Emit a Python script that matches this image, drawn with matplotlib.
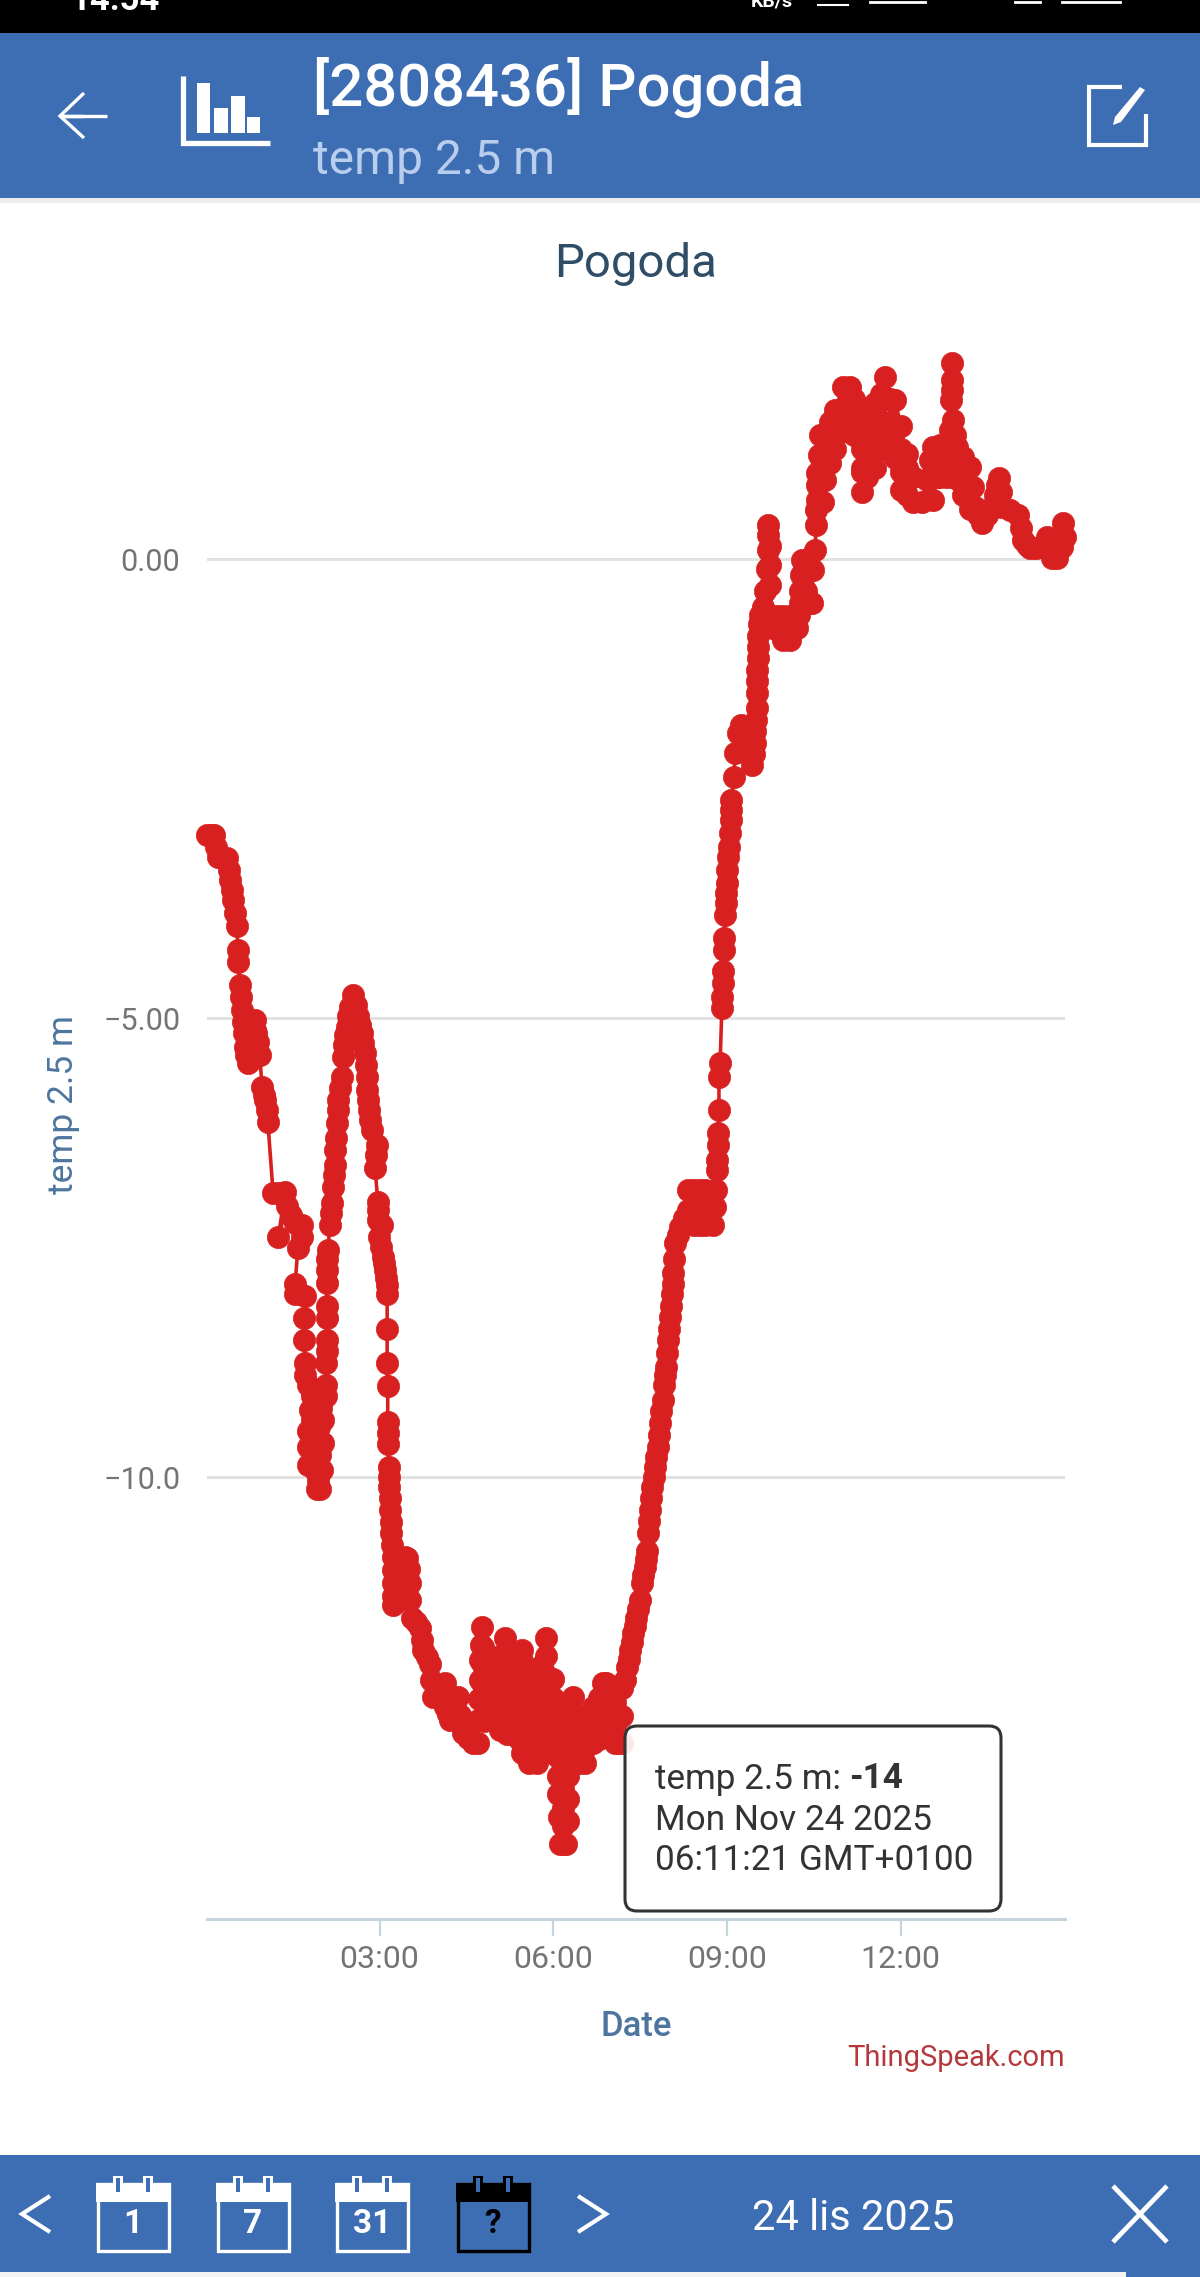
import matplotlib
matplotlib.use("Agg")
import matplotlib.pyplot as plt
from matplotlib.patches import Rectangle, FancyBboxPatch, Polygon

plt.rcParams['font.family'] = ['Roboto', 'DejaVu Sans']

# readings as (hour of day, temperature)
evening_fall = [(0.02,-3.00),(0.08,-3.00),(0.14,-3.00),(0.18,-3.13),(0.21,-3.24),(0.30,-3.25),(0.36,-3.25),(0.40,-3.38),
 (0.42,-3.49),(0.45,-3.60),(0.47,-3.71),(0.50,-3.85),(0.54,-4.00),(0.55,-4.26),(0.55,-4.39),(0.59,-4.64),(0.61,-4.77),
 (0.62,-4.91),(0.64,-5.04),(0.66,-5.16),(0.68,-5.31),(0.69,-5.40),(0.73,-5.49),(0.78,-5.45),(0.81,-5.29),(0.85,-5.13),
 (0.85,-5.02),(0.87,-5.16),(0.90,-5.26),(0.93,-5.40),(0.97,-5.75),(1.00,-5.84),(1.02,-5.89),(1.05,-6.00),(1.07,-6.13),
 (1.16,-6.90),(1.26,-6.90),(1.37,-6.89),(1.25,-7.38),(1.40,-7.05),(1.47,-7.14),(1.54,-7.23),(1.61,-7.25),(1.66,-7.25),
 (1.66,-7.38),(1.59,-7.50),(1.54,-7.89),(1.54,-8.00),(1.63,-8.00),(1.71,-8.02),(1.70,-8.26),(1.70,-8.51),(1.71,-8.76),
 (1.71,-8.89),(1.76,-9.00),(1.83,-9.12),(1.92,-9.15),(1.98,-9.25),(1.88,-9.30),(1.80,-9.27),(1.83,-9.38),(1.95,-9.45),
 (1.85,-9.55),(1.76,-9.50),(1.76,-9.67),(1.88,-9.70),(1.98,-9.62),(1.90,-9.82),(1.76,-9.87),(1.88,-9.92),
 (1.92,-10.13),(1.94,-10.03),(1.97,-10.13),(2.01,-9.92),(1.97,-9.76),(2.02,-9.63),(2.02,-9.38),(2.07,-9.12),(2.07,-9.00)]
first_peak = [(2.07,-8.76),(2.09,-8.62),(2.09,-8.51),(2.09,-8.26),(2.09,-8.13),(2.09,-7.88),(2.09,-7.74),(2.09,-7.62),
 (2.11,-7.52),(2.14,-7.25),(2.16,-7.12),(2.18,-7.01),(2.19,-6.84),(2.21,-6.71),(2.23,-6.60),(2.23,-6.43),(2.25,-6.30),
 (2.26,-6.14),(2.28,-6.00),(2.28,-5.89),(2.32,-5.76),(2.35,-5.64),(2.37,-5.42),(2.39,-5.29),(2.40,-5.18),(2.44,-5.09),
 (2.45,-4.98),(2.49,-4.88),(2.54,-4.75),(2.59,-4.86),(2.63,-4.98),(2.66,-5.07),(2.70,-5.16),(2.71,-5.27),(2.75,-5.38),
 (2.77,-5.51),(2.78,-5.64),(2.78,-5.78),(2.80,-5.89),(2.82,-6.00),(2.83,-6.11),(2.87,-6.22),(2.96,-6.38),(2.94,-6.49),
 (2.92,-6.63)]
second_fall = [(2.97,-7.00),(2.97,-7.09),(2.97,-7.20),(3.04,-7.25),(2.99,-7.38),(3.02,-7.49),(3.06,-7.60),(3.08,-7.67),
 (3.09,-7.74),(3.11,-7.83),(3.13,-7.91),(3.13,-8.00),(3.13,-8.39),(3.13,-8.76),(3.14,-9.01),(3.14,-9.40),(3.14,-9.52),
 (3.14,-9.64),(3.16,-9.89),(3.16,-10.00),(3.16,-10.11),(3.18,-10.23),(3.18,-10.36),(3.20,-10.49),(3.20,-10.61),
 (3.21,-10.74),(3.23,-10.87),(3.23,-11.01),(3.23,-11.15),(3.23,-11.29),(3.23,-11.39),(3.30,-11.35),(3.35,-11.29),(3.39,-11.06),
 (3.43,-10.87),(3.47,-10.88),(3.50,-11.00),(3.53,-11.15),(3.53,-11.34),(3.56,-11.53),(3.63,-11.58),(3.70,-11.64),(3.73,-11.77),
 (3.75,-11.88),(3.82,-11.96),(3.87,-12.03),(3.89,-12.21),(3.92,-12.39),(3.98,-12.36),(4.03,-12.32),(4.08,-12.28),(4.13,-12.24),(4.13,-12.37),
 (4.13,-12.50),(4.18,-12.58),(4.22,-12.64),(4.28,-12.52),(4.35,-12.39),(4.39,-12.59),(4.44,-12.79),(4.53,-12.84),
 (4.61,-12.89),(4.70,-12.89)]
night_swings = [(4.70,-12.64),(4.72,-12.42),(4.73,-12.21),(4.73,-11.99),(4.75,-11.83),(4.77,-11.63),(4.78,-11.85),(4.78,-12.05),
 (4.78,-12.25),(4.78,-12.45),(4.80,-12.65),(4.90,-12.60),(4.90,-12.40),(4.90,-12.20),(4.90,-12.00),(4.98,-11.98),(4.98,-12.18),
 (4.98,-12.38),(4.98,-12.60),(5.08,-12.75),(5.08,-12.55),(5.08,-12.35),(5.08,-12.15),(5.08,-11.95),(5.17,-11.75),(5.17,-11.95),
 (5.17,-12.15),(5.17,-12.35),(5.17,-12.55),(5.20,-12.80),(5.29,-12.80),(5.29,-12.60),(5.29,-12.40),(5.29,-12.20),(5.29,-12.10),
 (5.40,-12.05),(5.40,-12.25),(5.40,-12.45),(5.40,-12.65),(5.40,-12.85),(5.46,-13.00),(5.46,-12.80),(5.46,-12.60),(5.46,-12.40),
 (5.46,-12.20),(5.46,-12.00),(5.46,-11.88),(5.58,-12.20),(5.58,-12.40),(5.58,-12.60),(5.58,-12.80),(5.58,-13.11),(5.72,-13.11),
 (5.72,-12.90),(5.72,-12.70),(5.72,-12.50),(5.72,-12.30),(5.80,-12.05),(5.87,-11.75),(5.87,-11.95),(5.87,-12.15),(5.87,-12.35),
 (5.87,-12.55),(5.87,-12.75),(5.87,-12.90),(6.00,-13.00),(6.00,-12.80),(6.00,-12.60),(6.00,-12.40),(6.00,-12.20),(6.08,-12.45),
 (6.08,-12.65),(6.08,-12.85),(6.08,-13.05),(6.08,-13.25),(6.08,-13.45),(6.10,-13.70),(6.12,-14.00),(6.17,-14.00),(6.22,-14.00),(6.17,-13.80),(6.17,-13.60),
 (6.17,-13.40),(6.17,-13.20),(6.17,-13.00),(6.17,-12.80),(6.17,-12.50),(6.25,-12.45),(6.25,-12.65),(6.25,-12.85),(6.25,-13.05),
 (6.25,-13.25),(6.25,-13.50),(6.25,-13.75),(6.34,-13.00),(6.34,-12.80),(6.34,-12.60),(6.34,-12.39),(6.45,-12.60),(6.45,-12.80),(6.45,-13.11),
 (6.55,-13.11),(6.55,-12.95),(6.55,-12.80),(6.69,-12.50),(6.69,-12.70),(6.69,-12.90),(6.78,-12.85),(6.78,-12.60),(6.78,-12.40),
 (6.86,-12.24),(6.86,-12.45),(6.86,-12.75),(6.91,-12.24),(6.93,-12.42),(7.00,-12.81),(7.00,-12.55),(7.00,-12.35),(7.07,-12.45),
 (7.07,-12.70),(7.07,-12.89),(7.13,-12.89),(7.19,-12.89),(7.19,-12.60),(7.19,-12.30)]
morning_rise = [(7.24,-12.21),(7.27,-12.07),(7.30,-11.98),(7.33,-11.88),(7.36,-11.79),(7.38,-11.70),(7.41,-11.62),(7.43,-11.53),(7.47,-11.43),
 (7.50,-11.34),(7.53,-11.15),(7.55,-11.06),(7.58,-10.98),(7.60,-10.89),(7.62,-10.80),(7.64,-10.61),(7.65,-10.48),(7.67,-10.36),(7.69,-10.23),(7.70,-10.11),
 (7.73,-10.00),(7.76,-9.89),(7.78,-9.78),(7.81,-9.67),(7.83,-9.54),
 (7.84,-9.41),(7.86,-9.28),(7.89,-9.16),(7.91,-9.00),(7.93,-8.89),(7.95,-8.80),(7.96,-8.65),(7.98,-8.51),(8.00,-8.38),
 (8.02,-8.25),(8.03,-8.13),(8.05,-8.00),(8.06,-7.89),(8.07,-7.78),(8.08,-7.62),(8.10,-7.45),(8.15,-7.36),(8.19,-7.27),
 (8.26,-7.18),(8.33,-7.09),(8.33,-6.87),(8.43,-6.87),(8.43,-7.06),(8.43,-7.25),(8.53,-7.25),(8.53,-7.06),(8.53,-6.87),(8.62,-6.87),(8.62,-7.06),(8.62,-7.25),
 (8.76,-7.25),(8.79,-7.06),(8.81,-6.87),(8.83,-6.65),(8.83,-6.54),(8.85,-6.38),(8.85,-6.25),(8.86,-6.00),(8.86,-5.64),
 (8.88,-5.49),(8.91,-4.89),(8.91,-4.77),(8.93,-4.62),(8.93,-4.49),(8.94,-4.26),(8.94,-4.13),(8.97,-3.88),(8.98,-3.74),
 (8.99,-3.64),(9.00,-3.53),(9.00,-3.38),(9.02,-3.24),(9.03,-3.13),(9.05,-2.98),(9.07,-2.84),(9.07,-2.73),(9.07,-2.62),
 (9.12,-2.37),(9.14,-2.11),(9.19,-1.89),(9.24,-1.80),(9.31,-1.97),(9.43,-2.24),(9.46,-2.12),(9.48,-2.00),(9.49,-1.87),
 (9.50,-1.75),(9.51,-1.62),(9.52,-1.46),(9.52,-1.33),(9.52,-1.21),(9.53,-1.08),(9.54,-0.96),(9.54,-0.83),(9.55,-0.71),
 (9.57,-0.61),(9.62,-0.52)]
midday = [(9.66,-0.34),(9.69,-0.11),(9.71,0.10),(9.71,0.26),(9.71,0.37),(9.74,0.15),(9.74,-0.06),(9.74,-0.28),(9.78,-0.66),
 (9.86,-0.77),(9.86,-0.62),(9.97,-0.62),(9.97,-0.88),(10.09,-0.88),(10.09,-0.62),(10.21,-0.62),(10.21,-0.75),(10.24,-0.61),(10.26,-0.48),(10.26,-0.34),(10.28,-0.17),
 (10.30,-0.01),(10.37,-0.01),(10.37,-0.34),(10.43,-0.48),(10.47,-0.48),(10.48,-0.12),(10.52,0.10),(10.54,0.37),(10.54,0.54),
 (10.56,0.65),(10.56,0.81),(10.56,0.94),(10.58,1.14),(10.61,1.35),(10.63,1.10),(10.63,0.85),(10.65,0.62),(10.69,0.86),(10.69,1.10),(10.69,1.35),
 (10.78,1.50),(10.78,1.25),(10.78,1.05),(10.87,1.20),(10.87,1.42),(10.87,1.63),(11.00,1.88),(11.00,1.65),(11.00,1.40),(11.12,1.39),
 (11.12,1.62),(11.12,1.88),(11.20,1.75),(11.20,1.55),(11.20,1.35),(11.33,1.00),(11.33,0.73),(11.33,0.95),(11.33,1.20),(11.33,1.42),(11.33,1.65),
 (11.42,1.63),(11.42,1.40),(11.42,1.15),(11.42,0.90),(11.55,1.00),(11.55,1.25),(11.55,1.50),(11.55,1.70),(11.65,1.80),(11.65,1.50),(11.65,1.20),
 (11.73,1.22),(11.73,1.45),(11.73,1.75),(11.73,1.99),(11.82,1.75),(11.82,1.50),(11.82,1.30),(11.90,1.10),(11.90,1.40),(11.90,1.74),
 (12.00,1.45),(12.00,1.20),(12.00,0.95),(12.00,0.76),(12.10,0.70),(12.10,1.00),(12.10,1.15),(12.21,0.90),(12.21,0.62),(12.37,0.62),(12.46,0.86),
 (12.51,1.08),(12.56,1.22),(12.56,0.95),(12.56,0.65),(12.62,0.90),(12.62,1.10),(12.68,1.25),(12.68,1.05),(12.68,0.90),(12.80,0.90),(12.80,1.05),(12.80,1.20),(12.85,1.41),(12.87,1.74),(12.89,1.95),
 (12.89,2.14),(12.89,1.84),(12.91,1.52),(12.94,1.35),(12.97,1.22),(12.97,1.05),(12.97,0.88),(13.08,0.70),(13.08,0.90),(13.08,1.11),(13.20,1.01),(13.20,0.80),(13.20,0.55),(13.25,0.79),(13.29,0.57),
 (13.33,0.48),(13.41,0.40),(13.49,0.48),(13.58,0.57),(13.63,0.70),(13.67,0.81),(13.70,0.89),(13.73,0.73),(13.75,0.57),
 (13.89,0.54),(14.03,0.48),(14.08,0.34),(14.11,0.21),(14.18,0.16),(14.23,0.12),(14.34,0.12),(14.44,0.13),(14.53,0.24),
 (14.58,0.12),(14.61,0.01),(14.70,0.01),(14.78,0.13),(14.84,0.24),(14.81,0.40)]

readings = evening_fall + first_peak + second_fall + night_swings + morning_rise + midday
hours = [r[0] for r in readings]
temps = [r[1] for r in readings]

y_ticks = [0, -5, -10]
y_tick_labels = ['0.00', '\u22125.00', '\u221210.0']
x_ticks = [3, 6, 9, 12]
x_tick_labels = ['03:00', '06:00', '09:00', '12:00']

W, H = 1200, 2277
fig = plt.figure(figsize=(W/100, H/100), dpi=100, facecolor='white')

ax = fig.add_axes([206.6/W, 1-1918.8/H, (1065-206.6)/W, (1918.8-310)/H])
ax.set_xlim(0.012, 14.836)
ax.set_ylim(-14.81, 2.716)
ax.plot(hours, temps, color='#d7201f', lw=2.6, marker='o', ms=16, mec='#d7201f', mew=0.5, clip_on=False, zorder=3)
for s in ['top', 'left', 'right']:
    ax.spines[s].set_visible(False)
ax.spines['bottom'].set_color('#c6d4de')
ax.spines['bottom'].set_linewidth(2.2)
ax.set_yticks(y_ticks, y_tick_labels)
ax.set_xticks(x_ticks, x_tick_labels)
ax.grid(axis='y', color='#e2e2e2', lw=2.2, zorder=0)
ax.set_axisbelow(True)
ax.tick_params(axis='y', length=0, pad=19, labelsize=22, labelcolor='#747474')
ax.tick_params(axis='x', length=12, width=1.6, color='#c6d4de', pad=7, labelsize=23, labelcolor='#747474')

# screen furniture, in screen pixels
ov = fig.add_axes([0, 0, 1, 1], zorder=5)
ov.set_xlim(0, W); ov.set_ylim(H, 0); ov.axis('off'); ov.patch.set_alpha(0)
BLUE = '#3d6eb4'
ov.add_patch(Rectangle((0, 0), W, 33, color='black', lw=0))
ov.add_patch(Rectangle((0, 33), W, 165, color=BLUE, lw=0))
ov.add_patch(Rectangle((0, 198), W, 5, color='#ececec', lw=0))
ov.add_patch(Rectangle((0, 2155), W, 122, color=BLUE, lw=0))
ov.add_patch(Rectangle((0, 2272), 1126, 5, color='#f4f4f4', lw=0))

def line(xs, ys, c='white', lw=3, **k):
    ov.plot(xs, ys, color=c, lw=lw, solid_capstyle='butt', solid_joinstyle='miter', **k)

ov.text(70, 1, '14:54', color='white', fontsize=25, fontweight='bold', va='center', ha='left', clip_on=True)
ov.text(772, 2, 'KB/s', color='white', fontsize=14, fontweight='bold', va='center', ha='center')
ov.plot([818, 848], [5, 5], color='white', lw=1.5)
ov.plot([870, 925], [2, 2], color='white', lw=2)
ov.plot([1015, 1040], [2, 2], color='white', lw=2)
ov.plot([1062, 1120], [2, 2], color='white', lw=2)

# header
line([107, 60, 84], [116, 116, 116], lw=2.4)
line([84, 60, 84], [93, 116, 138], lw=2.4)
line([183, 183, 270], [76, 143, 143], lw=3.8)
for x0, top, w in [(197, 83, 13), (214, 108, 14), (231, 96, 14), (247, 117, 13)]:
    ov.add_patch(Rectangle((x0, top), w, 133-top, color='white', lw=0))
line([1122, 1089, 1089, 1146, 1146], [87, 87, 145, 145, 114], lw=3)
ov.add_patch(Polygon([[1140, 87], [1145, 90], [1121, 122], [1113, 125], [1115, 117]], color='white', lw=0))
ov.text(313, 88, '[2808436] Pogoda', color='white', fontsize=43, fontweight='medium', va='center', ha='left')
ov.text(313, 161, 'temp 2.5 m', color='#b9cdec', fontsize=34.5, va='center', ha='left')

# chart texts
ov.text(636, 264, 'Pogoda', color='#2f4d66', fontsize=34, va='center', ha='center')
ov.text(63, 1105, 'temp 2.5 m', color='#4d759e', fontsize=25.5, rotation=90, va='center', ha='center')
ov.text(636, 2026, 'Date', color='#4d759e', fontsize=25, fontweight='medium', va='center', ha='center')
ov.text(1065, 2058, 'ThingSpeak.com', color='#b5393c', fontsize=21, va='center', ha='right')

# tooltip
ov.add_patch(FancyBboxPatch((637, 1738), 352, 161, boxstyle='round,pad=12', fc=(1, 1, 1, 0.9), ec='#333333', lw=2.2))
ov.text(655, 1779, 'temp 2.5 m: ', color='#333333', fontsize=25.3, va='center', ha='left')
ov.text(849, 1779, '-14', color='#333333', fontsize=25.3, fontweight='bold', va='center', ha='left')
ov.text(655, 1820, 'Mon Nov 24 2025', color='#333333', fontsize=25.3, va='center', ha='left')
ov.text(655, 1861, '06:11:21 GMT+0100', color='#333333', fontsize=25.3, va='center', ha='left')

# bottom bar
line([50, 22, 50], [2196, 2214, 2232], lw=3)
line([578, 606, 578], [2196, 2214, 2232], lw=3)
line([1113, 1167], [2186, 2242], lw=3.4)
line([1167, 1113], [2186, 2242], lw=3.4)
ov.text(853, 2218, '24 lis 2025', color='white', fontsize=30, va='center', ha='center')
for x0, txt, c, tc in [(96, '1', 'white', 'white'), (216, '7', 'white', 'white'), (335, '31', 'white', 'white'), (456, '?', 'black', 'black')]:
    w = 74
    ov.add_patch(Rectangle((x0+1.5, 2184), w-3, 67, fc='none', ec=c, lw=2.4))
    ov.add_patch(Rectangle((x0, 2183), w, 19, color=c, lw=0))
    for dx in (18, 48):
        ov.add_patch(Rectangle((x0+dx-1, 2176), 10, 18, color=c, lw=0))
        ov.add_patch(Rectangle((x0+dx+2, 2178), 4, 14, color=BLUE, lw=0))
    ov.text(x0+w/2, 2224, txt, color=tc, fontsize=24, fontweight='bold', va='center', ha='center')

fig.savefig('out.png', dpi=100)
